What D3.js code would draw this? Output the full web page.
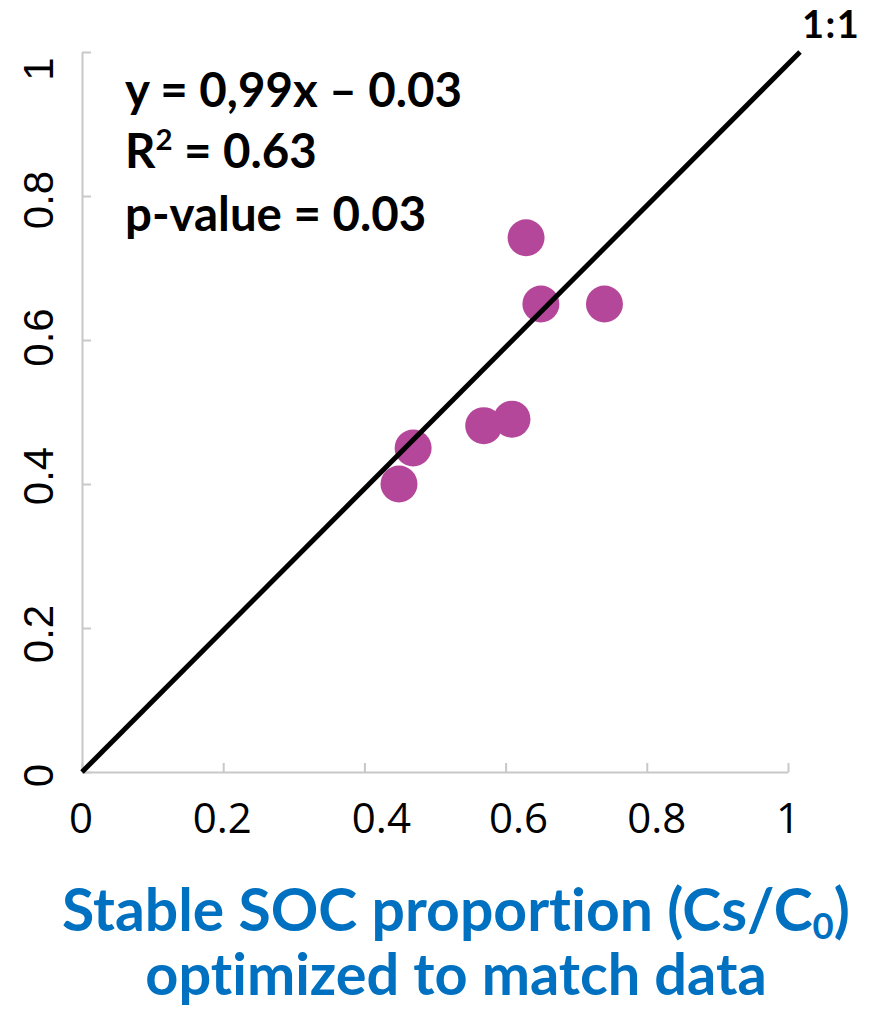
<!DOCTYPE html>
<html>
<head>
<meta charset="utf-8">
<script src="https://cdn.jsdelivr.net/npm/d3@7"></script>
<style>
  html, body { margin: 0; padding: 0; background: #fff; }
  svg { display: block; }
  text { font-variant-ligatures: none; font-feature-settings: "liga" 0, "clig" 0; }
</style>
</head>
<body>
<svg id="chart" width="871" height="1009"></svg>
<script>
// ---------- data ----------
const pointsX = [0.629, 0.650, 0.740, 0.569, 0.609, 0.469, 0.449];
const pointsY = [0.742, 0.650, 0.650, 0.481, 0.490, 0.450, 0.400];
const xTicks = [0, 0.2, 0.4, 0.6, 0.8, 1];
const yTicks = [0, 0.2, 0.4, 0.6, 0.8, 1];
const xTickLabels = ["0", "0.2", "0.4", "0.6", "0.8", "1"];
const yTickLabels = ["0", "0.2", "0.4", "0.6", "0.8", "1"];
const oneToOneX = [0, 1.017];
const oneToOneY = [0, 1];
const statLines = ["y = 0,99x \u2013 0.03", "R2 = 0.63", "p-value = 0.03"];

// ---------- layout / style ----------
const W = 871, H = 1009;
const plot = { left: 82, right: 788, top: 52, bottom: 772 };
const xLabelDx = [-1, -1, 17, 13, 10, 0];
const yLabelDy = [3.5, 6, -8, -2.5, 4, 17];
const axisColor = "#c8c8c8";
const pointColor = "#b5479a";
const titleColor = "#0070c0";
const boldFont = "Lato, 'Open Sans', sans-serif";

const svg = d3.select("#chart");
const x = d3.scaleLinear().domain([0, 1]).range([plot.left, plot.right]);
const y = d3.scaleLinear().domain([0, 1]).range([plot.bottom, plot.top]);

function fitWidth(sel, target) {
  const n = sel.node();
  const base = parseFloat(sel.attr("font-size"));
  const len = n.getComputedTextLength();
  const fs = base * target / len;
  sel.attr("font-size", fs);
  return fs;
}

// ---------- axes ----------
const xAxis = svg.append("g")
  .attr("transform", `translate(0,${plot.bottom})`)
  .call(d3.axisBottom(x).tickValues(xTicks).tickSize(-9).tickSizeOuter(0).tickFormat(""));
const yAxis = svg.append("g")
  .attr("transform", `translate(${plot.left},0)`)
  .call(d3.axisLeft(y).tickValues(yTicks).tickSize(-9).tickSizeOuter(0).tickFormat(""));
[xAxis, yAxis].forEach(g => {
  g.selectAll("path.domain").attr("stroke", axisColor).attr("stroke-width", 2);
  g.selectAll(".tick line").attr("stroke", axisColor).attr("stroke-width", 2);
});

// x tick labels
svg.append("g").selectAll("text")
  .data(xTicks)
  .join("text")
  .attr("x", (d, i) => x(d) + xLabelDx[i])
  .attr("y", 833)
  .attr("text-anchor", "middle")
  .attr("font-family", "'Open Sans', sans-serif")
  .attr("font-size", 42)
  .attr("fill", "#000")
  .text((d, i) => xTickLabels[i]);

// y tick labels (rotated)
svg.append("g").selectAll("text")
  .data(yTicks)
  .join("text")
  .attr("transform", (d, i) => `translate(53,${y(d) + yLabelDy[i]}) rotate(-90)`)
  .attr("text-anchor", "middle")
  .attr("font-family", "'Liberation Sans', Arial, sans-serif")
  .attr("font-size", 42)
  .attr("fill", "#000")
  .text((d, i) => yTickLabels[i]);

// ---------- points ----------
svg.append("g").selectAll("circle")
  .data(pointsX.map((v, i) => [v, pointsY[i]]))
  .join("circle")
  .attr("cx", d => x(d[0]))
  .attr("cy", d => y(d[1]))
  .attr("r", 18.5)
  .attr("fill", pointColor);

// ---------- 1:1 line ----------
svg.append("path")
  .datum(oneToOneX.map((v, i) => [v, oneToOneY[i]]))
  .attr("fill", "none")
  .attr("stroke", "#000")
  .attr("stroke-width", 5)
  .attr("d", d3.line().x(d => x(d[0])).y(d => y(d[1])));

svg.append("text")
  .attr("x", 802).attr("y", 37.5)
  .attr("font-family", boldFont).attr("font-weight", 700)
  .attr("font-size", 38).attr("letter-spacing", 1.5).attr("fill", "#000")
  .text("1:1");

// ---------- statistics text ----------
const statBase = [107, 168, 231];
const s1 = svg.append("text")
  .attr("x", 125).attr("y", statBase[0])
  .attr("font-family", boldFont).attr("font-weight", 700)
  .attr("font-size", 46).attr("fill", "#000")
  .text(statLines[0]);
const statFs = fitWidth(s1, 337);

const s2 = svg.append("text")
  .attr("x", 125).attr("y", statBase[1])
  .attr("font-family", boldFont).attr("font-weight", 700)
  .attr("font-size", statFs).attr("fill", "#000");
s2.append("tspan").text("R");
s2.append("tspan").attr("font-size", "0.62em").attr("dy", "-0.62em").text("2");
s2.append("tspan").attr("dy", "0.384em").text(statLines[1].slice(2));

svg.append("text")
  .attr("x", 125).attr("y", statBase[2])
  .attr("font-family", boldFont).attr("font-weight", 700)
  .attr("font-size", statFs).attr("fill", "#000")
  .text(statLines[2]);

// ---------- x-axis title ----------
const t1 = svg.append("text")
  .attr("x", 456).attr("y", 931)
  .attr("text-anchor", "middle")
  .attr("font-family", boldFont).attr("font-weight", 700)
  .attr("font-size", 50).attr("fill", titleColor);
t1.append("tspan").text("Stable SOC proportion (Cs/C");
t1.append("tspan").attr("font-size", "0.62em").attr("dy", "0.22em").text("0");
t1.append("tspan").attr("dy", "-0.136em").text(")");
const titleFs = fitWidth(t1, 788);

svg.append("text")
  .attr("x", 456).attr("y", 995)
  .attr("text-anchor", "middle")
  .attr("font-family", boldFont).attr("font-weight", 700)
  .attr("font-size", titleFs * 0.98).attr("fill", titleColor)
  .text("optimized to match data");
</script>
</body>
</html>
